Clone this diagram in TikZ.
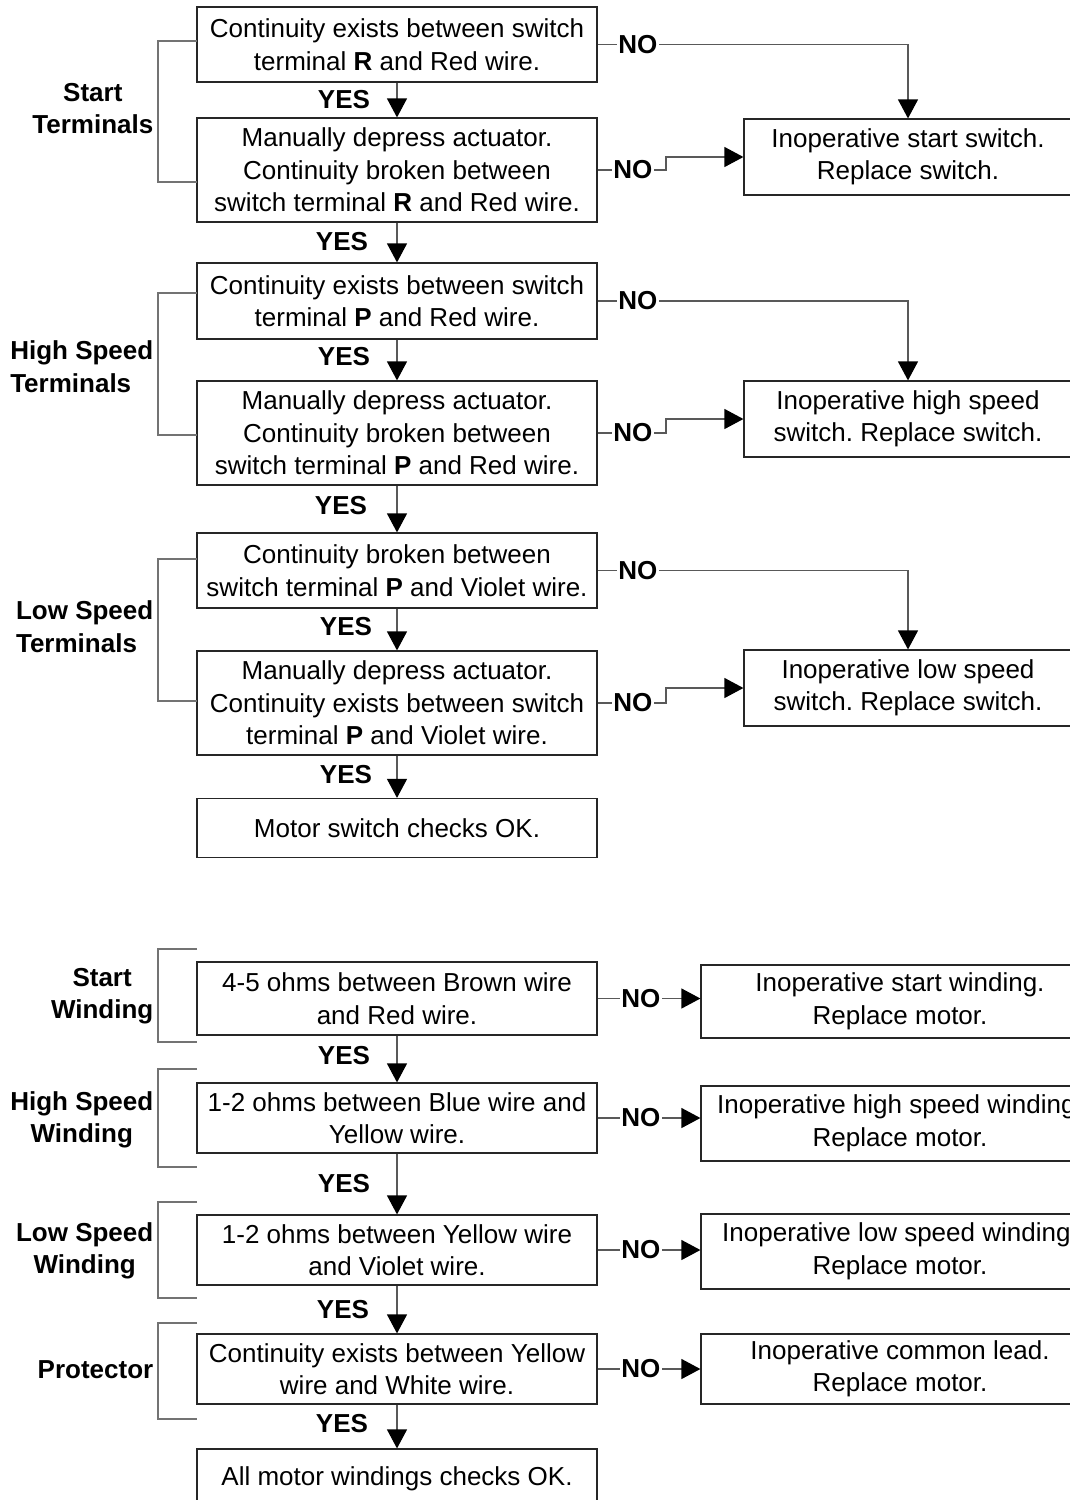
\documentclass[tikz,border=0pt]{standalone}
\usepackage{fontspec}
\setmainfont{Liberation Sans}
\usetikzlibrary{arrows.meta}
\frenchspacing
\begin{document}
\begin{tikzpicture}[x=1pt,y=-1pt,
  box/.style={draw=black!85, line width=1.2pt, minimum width=400pt, inner sep=0pt, align=center, font=\fontsize{26}{32.5}\selectfont},
  rbox/.style={box, minimum width=328pt},
  rwbox/.style={box, minimum width=398pt},
  lbl/.style={font=\fontsize{26}{32.5}\selectfont\bfseries, inner sep=1.5pt},
  side/.style={lbl, anchor=east},
  conn/.style={draw=black!65, line width=1.2pt},
  arr/.style={conn, -{Triangle[width=20pt,length=19pt,color=black]}},
  brk/.style={draw=black!55, line width=1.2pt}]
\useasboundingbox (0,0) rectangle (1070,1500);
\clip (0,0) rectangle (1070,1500);

% ---------- switch section ----------
\node[box, minimum height=75pt] (b1) at (397,44.5) {Continuity exists between switch\\terminal \textbf{R} and Red wire.};
\node[box, minimum height=104pt] (b2) at (397,170) {Manually depress actuator.\\Continuity broken between\\switch terminal \textbf{R} and Red wire.};
\node[box, minimum height=76pt] (b3) at (397,301) {Continuity exists between switch\\terminal \textbf{P} and Red wire.};
\node[box, minimum height=104pt] (b4) at (397,433) {Manually depress actuator.\\Continuity broken between\\switch terminal \textbf{P} and Red wire.};
\node[box, minimum height=75pt] (b5) at (397,570.5) {Continuity broken between\\switch terminal \textbf{P} and Violet wire.};
\node[box, minimum height=104pt] (b6) at (397,703) {Manually depress actuator.\\Continuity exists between switch\\terminal \textbf{P} and Violet wire.};
\node[box, minimum height=59pt] (b7) at (397,828) {Motor switch checks OK.};

\node[rbox, minimum height=76pt] (r1) at (908,157) {Inoperative start switch.\\Replace switch.};
\node[rbox, minimum height=76pt] (r2) at (908,419) {Inoperative high speed\\switch. Replace switch.};
\node[rbox, minimum height=76pt] (r3) at (908,688) {Inoperative low speed\\switch. Replace switch.};

\node[side, align=center] (s1) at (155,108.5) {Start\\Terminals};
\node[side, align=left] (s2) at (155,366.5) {High Speed\\Terminals};
\node[side, align=left] (s3) at (155,626.5) {Low Speed\\Terminals};

\draw[brk] (197,41) -- (158,41) -- (158,182) -- (197,182);
\draw[brk] (197,293) -- (158,293) -- (158,435) -- (197,435);
\draw[brk] (197,559) -- (158,559) -- (158,701) -- (197,701);

% YES arrows
\node[lbl] (y1) at (344,99.5) {YES};
\node[lbl] (y2) at (342,242) {YES};
\node[lbl] (y3) at (344,357) {YES};
\node[lbl] (y4) at (341,506) {YES};
\node[lbl] (y5) at (346,627) {YES};
\node[lbl] (y6) at (346,775) {YES};
\draw[arr] (b1.south) -- (b2.north);
\draw[arr] (b2.south) -- (b3.north);
\draw[arr] (b3.south) -- (b4.north);
\draw[arr] (b4.south) -- (b5.north);
\draw[arr] (b5.south) -- (b6.north);
\draw[arr] (b6.south) -- (b7.north);

% NO connectors
\node[lbl, anchor=west] (n1) at ([xshift=19pt]b1.east) {NO};
\draw[conn] (b1.east) -- (n1.west);
\draw[arr] (n1.east) -| (r1.north);
\node[lbl, anchor=west] (n2) at ([xshift=14pt]b2.east) {NO};
\draw[conn] (b2.east) -- (n2.west);
\draw[arr] (n2.east) -- ++(12,0) |- (r1.west);

\node[lbl, anchor=west] (n3) at ([xshift=19pt]b3.east) {NO};
\draw[conn] (b3.east) -- (n3.west);
\draw[arr] (n3.east) -| (r2.north);
\node[lbl, anchor=west] (n4) at ([xshift=14pt]b4.east) {NO};
\draw[conn] (b4.east) -- (n4.west);
\draw[arr] (n4.east) -- ++(12,0) |- (r2.west);

\node[lbl, anchor=west] (n5) at ([xshift=19pt]b5.east) {NO};
\draw[conn] (b5.east) -- (n5.west);
\draw[arr] (n5.east) -| (r3.north);
\node[lbl, anchor=west] (n6) at ([xshift=14pt]b6.east) {NO};
\draw[conn] (b6.east) -- (n6.west);
\draw[arr] (n6.east) -- ++(12,0) |- (r3.west);

% ---------- winding section ----------
\node[box, minimum height=73pt] (w1) at (397,998.5) {4-5 ohms between Brown wire\\and Red wire.};
\node[box, minimum height=70pt] (w2) at (397,1118) {1-2 ohms between Blue wire and\\Yellow wire.};
\node[box, minimum height=70pt] (w3) at (397,1250) {1-2 ohms between Yellow wire\\and Violet wire.};
\node[box, minimum height=70pt] (w4) at (397,1369) {Continuity exists between Yellow\\wire and White wire.};
\node[box, minimum height=60pt] (w5) at (397,1479) {All motor windings checks OK.};

\node[rwbox, minimum height=73pt] (q1) at (900,1001.5) {Inoperative start winding.\\Replace motor.};
\node[rwbox, minimum height=75pt] (q2) at (900,1123.5) {Inoperative high speed winding.\\Replace motor.};
\node[rwbox, minimum height=75pt] (q3) at (900,1251.5) {Inoperative low speed winding.\\Replace motor.};
\node[rwbox, minimum height=70pt] (q4) at (900,1369) {Inoperative common lead.\\Replace motor.};

\node[side, align=center] (t1) at (155,996) {Start\\Winding};
\node[side, align=center] (t2) at (155,1120) {High Speed\\Winding};
\node[side, align=center] (t3) at (155,1251) {Low Speed\\Winding};
\node[side] (t4) at (155,1370) {Protector};

\draw[brk] (197,949) -- (158,949) -- (158,1042) -- (197,1042);
\draw[brk] (197,1069) -- (158,1069) -- (158,1167) -- (197,1167);
\draw[brk] (197,1202) -- (158,1202) -- (158,1298) -- (197,1298);
\draw[brk] (197,1323) -- (158,1323) -- (158,1419) -- (197,1419);

\node[lbl] (z1) at (344,1056) {YES};
\node[lbl] (z2) at (344,1184) {YES};
\node[lbl] (z3) at (343,1310) {YES};
\node[lbl] (z4) at (342,1424) {YES};
\draw[arr] (w1.south) -- (w2.north);
\draw[arr] (w2.south) -- (w3.north);
\draw[arr] (w3.south) -- (w4.north);
\draw[arr] (w4.south) -- (w5.north);

\node[lbl, anchor=west] (m1) at ([xshift=22pt]w1.east) {NO};
\draw[conn] (w1.east) -- (m1.west);
\draw[arr] (m1.east) -- (m1.east -| q1.west);
\node[lbl, anchor=west] (m2) at ([xshift=22pt]w2.east) {NO};
\draw[conn] (w2.east) -- (m2.west);
\draw[arr] (m2.east) -- (m2.east -| q2.west);
\node[lbl, anchor=west] (m3) at ([xshift=22pt]w3.east) {NO};
\draw[conn] (w3.east) -- (m3.west);
\draw[arr] (m3.east) -- (m3.east -| q3.west);
\node[lbl, anchor=west] (m4) at ([xshift=22pt]w4.east) {NO};
\draw[conn] (w4.east) -- (m4.west);
\draw[arr] (m4.east) -- (m4.east -| q4.west);
\end{tikzpicture}
\end{document}
